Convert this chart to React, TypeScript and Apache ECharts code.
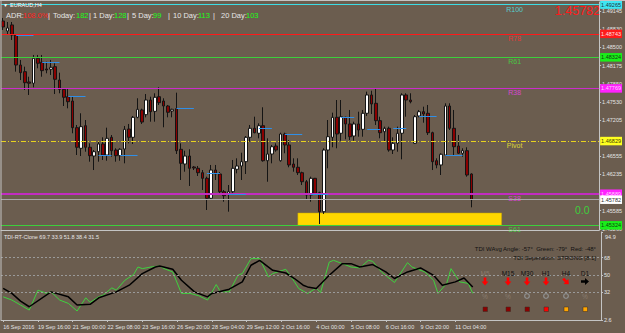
import React, { useEffect, useRef } from "react";
import * as echarts from "echarts";

// ---------- data ----------
const tickLabels = [
  "16 Sep 2016", "19 Sep 16:00", "21 Sep 00:00", "22 Sep 08:00", "23 Sep 16:00",
  "26 Sep 20:00", "28 Sep 04:00", "29 Sep 12:00", "2 Oct 16:00", "4 Oct 00:00",
  "5 Oct 08:00", "6 Oct 16:00", "9 Oct 20:00", "11 Oct 04:00",
];
const BARS_PER_LABEL = 8;
const SLOTS = 138;

// [open, close, low, high]
const candles: number[][] = [
  [1.48973, 1.48866, 1.48812, 1.49027], [1.48794, 1.48848, 1.48723, 1.48955], [1.48902, 1.48723, 1.48634, 1.48955],
  [1.48723, 1.48187, 1.48068, 1.48741], [1.48187, 1.4805, 1.47919, 1.48277], [1.48068, 1.47871, 1.47741, 1.48157],
  [1.47884, 1.47861, 1.47652, 1.47978], [1.47861, 1.48307, 1.47789, 1.48366], [1.48307, 1.48218, 1.48128, 1.48366],
  [1.48236, 1.48086, 1.47978, 1.48366], [1.48116, 1.48098, 1.48039, 1.48246], [1.48111, 1.48146, 1.48009, 1.48277],
  [1.48157, 1.47932, 1.47669, 1.48218], [1.47919, 1.47753, 1.47682, 1.4805], [1.47753, 1.47611, 1.47455, 1.47771],
  [1.47621, 1.47532, 1.47414, 1.47771], [1.47544, 1.47068, 1.46968, 1.47621], [1.47068, 1.46718, 1.4658, 1.47116],
  [1.467, 1.47086, 1.46562, 1.47325], [1.47103, 1.46718, 1.46639, 1.47205], [1.46718, 1.46568, 1.46461, 1.46789],
  [1.46562, 1.46639, 1.46312, 1.46669], [1.46639, 1.46777, 1.46461, 1.46818], [1.46777, 1.4658, 1.46491, 1.46896],
  [1.4658, 1.46878, 1.46478, 1.47068], [1.46896, 1.46657, 1.4655, 1.46937], [1.46669, 1.46568, 1.46461, 1.467],
  [1.46568, 1.46682, 1.46478, 1.467], [1.46687, 1.47039, 1.46432, 1.47098], [1.47044, 1.46896, 1.46789, 1.47134],
  [1.46896, 1.47253, 1.46777, 1.47277], [1.47253, 1.47396, 1.47236, 1.47593], [1.47384, 1.47169, 1.47134, 1.47407],
  [1.473, 1.47562, 1.47253, 1.47669], [1.47562, 1.47353, 1.47175, 1.47621], [1.4736, 1.47611, 1.47175, 1.47682],
  [1.47621, 1.47514, 1.47473, 1.47789], [1.47544, 1.47455, 1.47075, 1.47593], [1.47455, 1.47343, 1.47253, 1.47473],
  [1.47366, 1.47396, 1.47253, 1.47407], [1.47407, 1.46657, 1.46598, 1.47693], [1.46682, 1.46432, 1.46134, 1.46789],
  [1.46419, 1.46562, 1.46282, 1.46657], [1.46562, 1.46343, 1.46027, 1.46682], [1.46366, 1.46348, 1.46312, 1.46384],
  [1.46343, 1.46264, 1.46205, 1.46384], [1.46264, 1.46164, 1.45955, 1.46312], [1.46164, 1.45807, 1.45598, 1.46193],
  [1.45807, 1.46312, 1.45777, 1.46402], [1.46312, 1.46241, 1.46134, 1.46402], [1.46241, 1.45925, 1.45866, 1.46277],
  [1.45925, 1.45853, 1.45746, 1.45955], [1.45884, 1.45925, 1.45568, 1.46044], [1.45925, 1.46343, 1.45896, 1.46491],
  [1.46325, 1.46384, 1.46253, 1.46521], [1.46384, 1.46461, 1.46134, 1.46621], [1.46461, 1.46896, 1.46241, 1.46919],
  [1.46896, 1.47057, 1.46818, 1.47116], [1.47057, 1.46978, 1.46968, 1.47264], [1.46968, 1.47103, 1.46878, 1.47146],
  [1.47103, 1.46478, 1.46461, 1.47432], [1.46478, 1.46598, 1.46103, 1.46878], [1.46598, 1.46728, 1.46432, 1.46759],
  [1.46741, 1.46669, 1.46639, 1.46789], [1.46478, 1.46955, 1.46461, 1.46978], [1.46955, 1.46759, 1.46611, 1.46978],
  [1.46759, 1.46402, 1.46361, 1.46848], [1.46419, 1.46361, 1.46282, 1.46521], [1.46361, 1.46264, 1.46223, 1.46521],
  [1.46264, 1.46103, 1.46044, 1.46282], [1.46103, 1.45866, 1.45777, 1.46134], [1.45866, 1.46164, 1.45746, 1.46193],
  [1.46164, 1.45896, 1.45866, 1.4617], [1.45907, 1.45568, 1.45348, 1.45925], [1.45568, 1.46669, 1.45527, 1.467],
  [1.46669, 1.46907, 1.46343, 1.47205], [1.46896, 1.47253, 1.46718, 1.47336], [1.47253, 1.46955, 1.467, 1.47562],
  [1.46968, 1.47264, 1.46836, 1.47562], [1.47253, 1.47134, 1.46861, 1.47264], [1.47134, 1.46907, 1.46848, 1.47384],
  [1.46919, 1.47134, 1.46836, 1.47175], [1.47134, 1.47027, 1.46907, 1.47353], [1.47039, 1.47325, 1.46907, 1.47384],
  [1.47325, 1.47652, 1.47277, 1.47711], [1.47652, 1.47491, 1.47312, 1.47728], [1.47503, 1.47193, 1.47116, 1.47771],
  [1.47193, 1.46978, 1.46878, 1.47264], [1.46996, 1.47057, 1.46818, 1.47086], [1.47057, 1.46669, 1.46639, 1.47086],
  [1.46669, 1.46789, 1.46598, 1.46896], [1.46789, 1.46968, 1.46639, 1.47086], [1.46968, 1.47652, 1.46503, 1.47682],
  [1.47652, 1.47562, 1.47264, 1.47682], [1.47562, 1.47532, 1.47503, 1.47682], [1.46789, 1.47264, 1.46777, 1.47294],
  [1.47277, 1.47353, 1.47253, 1.47384], [1.47353, 1.47312, 1.47157, 1.47443], [1.47325, 1.46978, 1.46937, 1.47473],
  [1.46978, 1.46461, 1.46312, 1.46996], [1.46478, 1.46402, 1.46343, 1.46521], [1.46402, 1.46593, 1.46223, 1.46611],
  [1.4658, 1.47455, 1.46562, 1.47503], [1.47455, 1.47057, 1.47027, 1.47503], [1.47057, 1.46728, 1.4658, 1.47384],
  [1.46741, 1.46611, 1.46598, 1.46937], [1.46611, 1.46657, 1.4655, 1.467], [1.46657, 1.46223, 1.46193, 1.46718],
  [1.46241, 1.45782, 1.45646, 1.46253],
];

// short blue markers: [startBar, endBar, price]
const blueMarks: number[][] = [
  [3, 7, 1.48723], [9, 13, 1.48236], [15, 19, 1.47621], [22, 25, 1.46568], [27, 31, 1.46568],
  [40, 44, 1.47407], [47, 50, 1.46253], [52, 56, 1.45884], [59, 62, 1.47057], [65, 69, 1.46955],
  [71, 75, 1.45884], [78, 81, 1.47253], [84, 87, 1.47044], [90, 93, 1.47057], [96, 100, 1.47264],
  [102, 106, 1.46568],
];

const levelNames = ["R100", "R78", "R61", "R38", "Pivot", "S38", "S61"];
const levelValues = [1.49265, 1.48743, 1.48324, 1.47769, 1.46829, 1.45889, 1.45324];
const bidPrice = 1.45782;
const zoneBox = [68, 115, 1.45544, 1.45324]; // bar from, bar to, top, bottom

const priceTicks = [1.49145, 1.4883, 1.485, 1.48175, 1.4785, 1.4753, 1.47205, 1.4688, 1.46555, 1.46235, 1.4591, 1.45585, 1.4526];
// labels that are not hidden under a price box
const priceLabels = [1.49145, 1.4883, 1.485, 1.48175, 1.4785, 1.4753, 1.47205, 1.46555, 1.46235, 1.45585, 1.4526];
const priceMin = 1.45241;
const priceMax = 1.49312;

// TDI: [bar, value]
const tdiGreen: number[][] = [
  [0, 26.9], [2, 23.5], [4, 18.3], [6, 13.0], [8, 33.9], [10, 30.5], [11, 32.1], [13, 23.5], [15, 20.0],
  [17, 12.0], [19, 25.9], [20, 21.1], [22, 26.9], [23, 28.7], [25, 36.3], [26, 33.9], [28, 44.3], [30, 50.3],
  [31, 58.2], [32, 56.5], [34, 58.2], [36, 59.2], [37, 56.5], [39, 53.0], [41, 30.5], [43, 30.5], [45, 28.0],
  [47, 23.5], [49, 39.8], [50, 32.1], [52, 32.1], [54, 49.5], [55, 51.3], [57, 67.0], [59, 67.0], [61, 47.8],
  [62, 51.3], [65, 55.8], [67, 42.6], [68, 35.5], [70, 30.5], [72, 36.0], [73, 31.5], [75, 63.4], [76, 65.2],
  [78, 61.7], [80, 58.2], [82, 57.2], [84, 65.2], [85, 64.1], [87, 53.0], [90, 41.9], [93, 62.8], [94, 58.2],
  [97, 53.0], [99, 44.3], [100, 30.5], [102, 40.9], [103, 56.5], [105, 42.6], [107, 40.9], [108, 30.5],
];
const tdiBlack: number[][] = [
  [0, 35.7], [2, 30.5], [4, 22.4], [6, 16.5], [11, 32.1], [15, 26.9], [17, 18.3], [20, 19.0], [22, 25.9],
  [26, 32.1], [29, 39.1], [32, 51.3], [35, 58.2], [36, 59.2], [39, 55.8], [41, 44.3], [44, 32.1], [47, 26.9],
  [48, 30.5], [52, 34.9], [55, 42.6], [57, 60.0], [59, 65.2], [62, 54.7], [65, 51.9], [67, 46.1], [69, 39.1],
  [70, 37.3], [72, 35.7], [75, 49.5], [78, 61.7], [80, 61.7], [82, 58.2], [85, 60.7], [88, 53.0], [90, 46.1],
  [93, 53.0], [96, 57.2], [99, 49.5], [101, 39.1], [104, 42.6], [106, 46.7], [108, 37.3],
];
const tdiLevels = [68, 50, 32];
const tdiTicks = [68, 50, 32, 2.6];
const tdiMax = 94.9;
const tdiMin = 2.6;
const tdiTitle = "TDI-RT-Clone 69.7 33.9 51.8 38.4 31.5";

const timeframes = ["M5", "M15", "M30", "H1", "H4", "D1"];
const tfArrows = ["down", "down", "down", "down", "downright", "right"];
const tfCircles = ["%", "%", "O", "O", "O", "%"];
const tfSquares = ["dark", "dark", "dark", "red", "orange", "orange"];

const adrParts = [
  ["ADR:", "l"], ["108.0%", "r"], ["|", "l"], ["Today:", "l"], ["182", "g"], ["|", "l"], ["1 Day:", "l"], ["128", "g"],
  ["|", "l"], ["5 Day:", "l"], ["99", "g"], ["|", "l"], ["10 Day:", "l"], ["113", "g"], ["|", "l"], ["20 Day:", "l"], ["103", "g"],
];

// ---------- styles ----------
const BG = "#6b5d4f";
const AXIS_TXT = "#e4e4e4";
const BORDER = "#c4c4c4";
const FONT = "'Liberation Sans', Arial, sans-serif";
const levelStyles = [
  { line: "#3ddde6", box: "#3ee6f2", text: "#203040", lbl: "#50e8f0", type: "solid", width: 1 },
  { line: "#ff1a1a", box: "#ff1a1a", text: "#ffe0e0", lbl: "#ff3030", type: "solid", width: 1 },
  { line: "#3ccf3c", box: "#19f019", text: "#104010", lbl: "#40e040", type: "solid", width: 1 },
  { line: "#cc2ccc", box: "#ff22ff", text: "#ffd0ff", lbl: "#f040f0", type: "solid", width: 1 },
  { line: "#e8d21e", box: "#ffff20", text: "#404000", lbl: "#f4f030", type: [5, 2, 1, 2], width: 1 },
  { line: "#c22cc2", box: "#ff22ff", text: "#ffd0ff", lbl: "#f040f0", type: "solid", width: 2 },
  { line: "#3ccf3c", box: "#19f019", text: "#104010", lbl: "#40e040", type: "solid", width: 1 },
];
const tfX = [485, 508, 527, 546, 566, 585];

export default function App() {
  const ref = useRef<HTMLDivElement>(null);

  useEffect(() => {
    if (!ref.current) return;
    const chart = echarts.init(ref.current, undefined, { renderer: "svg" });

    const categories: string[] = [];
    for (let i = 0; i < SLOTS; i++) categories.push("");
    tickLabels.forEach((t, k) => { categories[k * BARS_PER_LABEL] = t; });
    const showTick = (_i: number, v: string) => v !== "";

    const levelLines: any[] = levelValues.map((v, i) => ({
      yAxis: v,
      lineStyle: { color: levelStyles[i].line, width: levelStyles[i].width, type: levelStyles[i].type },
      label: {
        show: true, position: "end", distance: 1, formatter: v.toFixed(5),
        backgroundColor: levelStyles[i].box, color: levelStyles[i].text,
        fontSize: 5.5, fontFamily: FONT, padding: [1.5, 1, 1, 1],
      },
    }));
    levelLines.push({
      yAxis: bidPrice,
      lineStyle: { color: "#a8a8a8", width: 1, type: "solid" },
      label: {
        show: true, position: "end", distance: 1, formatter: bidPrice.toFixed(5),
        backgroundColor: "#ffffff", color: "#303030", fontSize: 5.5, fontFamily: FONT, padding: [1.5, 1, 1, 1],
      },
    });
    const blueLines = blueMarks.map((b) => [
      { coord: [b[0], b[2]], lineStyle: { color: "#2f8fe8", width: 1, type: "solid" }, label: { show: false } },
      { coord: [b[1], b[2]] },
    ]);

    const txt = (text: string, x: number, y: number, size: number, fill: string, align = "left", family = FONT, weight = "normal") => ({
      type: "text", x, y, silent: true, z: 50,
      style: {
        text, fill, fontSize: size, fontFamily: family, fontWeight: weight,
        align, textAlign: align, verticalAlign: "middle", textVerticalAlign: "middle",
      },
    });

    const graphics: any[] = [];
    graphics.push({ type: "line", shape: { x1: 1, y1: 1, x2: 1, y2: 320 }, style: { stroke: BORDER, lineWidth: 1 }, z: 40 });
    graphics.push({ type: "line", shape: { x1: 0, y1: 0.5, x2: 625, y2: 0.5 }, style: { stroke: BORDER, lineWidth: 1 }, z: 40 });
    graphics.push(txt("▼", 3, 5, 5, "#ffffff"));
    graphics.push(txt("EURAUD,H4", 10, 5, 5.5, "#ffffff"));
    const adrX = [6, 23, 48, 53, 76, 89, 93, 114, 127, 132, 153, 168, 173, 198, 213, 221, 246];
    const adrColor: any = { l: "#e6e6e6", r: "#ff2020", g: "#19ff19" };
    adrParts.forEach((p, i) => graphics.push(txt(p[0], adrX[i], 15, 7.5, adrColor[p[1]])));
    graphics.push(txt(bidPrice.toFixed(5), 600, 11, 12.5, "#ff1a1a", "right"));
    graphics.push(txt("0.0", 575, 210, 10.5, "#3ccf3c"));
    graphics.push(txt(tdiTitle, 4, 237, 5.5, "#e6e6e6"));
    graphics.push(txt(String(tdiMax), 605, 236.5, 5.5, AXIS_TXT));
    graphics.push(txt("TDI WAvg Angle: -57°  Green: -79°  Red: -48°", 596, 249, 6, "#111111", "right"));
    graphics.push(txt("TDI Seperation: STRONG [8.1]", 596, 257.5, 6, "#111111", "right"));

    const arrowPts = [[-1.3, -4], [1.3, -4], [1.3, 0], [3.4, 0], [0, 4], [-3.4, 0], [-1.3, 0]];
    const rot: any = { down: 0, downright: Math.PI / 4, right: Math.PI / 2 };
    const sqColor: any = { dark: "#8b0000", red: "#ff0000", orange: "#ffa500" };
    timeframes.forEach((tf, i) => {
      const cx = tfX[i];
      graphics.push(txt(tf, cx, 273, 6.5, i === 0 ? "#8a7c6e" : "#111111", "center"));
      graphics.push({
        type: "polygon", x: cx, y: 281.5, rotation: rot[tfArrows[i]], silent: true, z: 50,
        shape: { points: arrowPts },
        style: { fill: tfArrows[i] === "right" ? "#000000" : "#ff0000" },
      });
      if (tfCircles[i] === "O") {
        graphics.push({ type: "ring", shape: { cx, cy: 296, r: 3, r0: 1.7 }, style: { fill: "#8e8e8e" }, silent: true, z: 50 });
      } else {
        graphics.push(txt("%", cx, 296, 6.5, "#8a7c6e", "center"));
      }
      graphics.push({ type: "rect", shape: { x: cx - 2, y: 307, width: 4.5, height: 4.5 }, style: { fill: sqColor[tfSquares[i]], stroke: "#3a2a20", lineWidth: 0.5 }, silent: true, z: 50 });
    });

    const option: any = {
      animation: false,
      backgroundColor: BG,
      textStyle: { fontFamily: FONT },
      grid: [
        { left: 1, right: 24, top: 2, height: 228 },
        { left: 1, right: 24, top: 232, height: 88 },
      ],
      xAxis: [
        {
          type: "category", gridIndex: 0, data: categories, boundaryGap: true,
          axisLabel: { show: false }, axisTick: { show: false },
          axisLine: { show: true, lineStyle: { color: BORDER, width: 1 } }, splitLine: { show: false },
        },
        {
          type: "category", gridIndex: 1, data: categories, boundaryGap: true,
          axisLabel: { show: true, interval: showTick, align: "left", fontSize: 5.5, color: AXIS_TXT, margin: 4, fontFamily: FONT },
          axisTick: { show: true, alignWithLabel: true, interval: showTick, length: 2, lineStyle: { color: BORDER } },
          axisLine: { show: true, lineStyle: { color: BORDER, width: 1 } }, splitLine: { show: false },
        },
      ],
      yAxis: [
        {
          type: "value", gridIndex: 0, position: "right", min: priceMin, max: priceMax,
          axisLabel: { show: true, customValues: priceLabels, formatter: (v: number) => v.toFixed(5), fontSize: 5.5, color: AXIS_TXT, margin: 3, fontFamily: FONT },
          axisTick: { show: true, customValues: priceTicks, length: 2, lineStyle: { color: BORDER } },
          axisLine: { show: true, lineStyle: { color: BORDER, width: 1 } }, splitLine: { show: false },
        },
        {
          type: "value", gridIndex: 1, position: "right", min: tdiMin, max: tdiMax,
          axisLabel: { show: true, customValues: tdiTicks, fontSize: 5.5, color: AXIS_TXT, margin: 3, fontFamily: FONT },
          axisTick: { show: true, customValues: [tdiMax, ...tdiTicks], length: 2, lineStyle: { color: BORDER } },
          axisLine: { show: true, lineStyle: { color: BORDER, width: 1 } }, splitLine: { show: false },
        },
      ],
      series: [
        {
          type: "scatter", name: "levels", xAxisIndex: 0, yAxisIndex: 0, z: 1, silent: true,
          symbolSize: 0,
          data: levelValues.map((v, i) => ({
            value: [118, v],
            label: { show: true, position: "bottom", distance: 1, formatter: levelNames[i], color: levelStyles[i].lbl, fontSize: 7, fontFamily: FONT },
          })),
          markLine: { silent: true, precision: 5, symbol: ["none", "none"], animation: false, data: [...levelLines, ...blueLines] },
          markArea: {
            silent: true,
            itemStyle: { color: "#ffd700", opacity: 1, borderColor: "#c8a800", borderWidth: 0.5 },
            data: [[{ coord: [zoneBox[0], zoneBox[2]] }, { coord: [zoneBox[1], zoneBox[3]] }]],
          },
        },
        {
          type: "candlestick", name: "EURAUD", xAxisIndex: 0, yAxisIndex: 0, z: 3,
          barWidth: 3,
          data: candles,
          itemStyle: { color: "#ffffff", color0: "#8b0000", borderColor: "#141414", borderColor0: "#141414", borderWidth: 1 },
        },
        {
          type: "line", name: "TDI green", xAxisIndex: 1, yAxisIndex: 1, z: 3,
          data: tdiGreen, symbol: "none", lineStyle: { color: "#3fd23f", width: 1 },
          markLine: {
            silent: true, symbol: ["none", "none"], label: { show: false },
            lineStyle: { color: "#9a9a9a", width: 1, type: [2, 2] },
            data: tdiLevels.map((v) => ({ yAxis: v })),
          },
        },
        {
          type: "line", name: "TDI signal", xAxisIndex: 1, yAxisIndex: 1, z: 4,
          data: tdiBlack, symbol: "none", lineStyle: { color: "#000000", width: 1.5 },
        },
      ],
      graphic: graphics,
    };

    chart.setOption(option);
    return () => chart.dispose();
  }, []);

  return <div ref={ref} style={{ position: "fixed", left: 0, top: 0, width: 625, height: 333 }} />;
}
